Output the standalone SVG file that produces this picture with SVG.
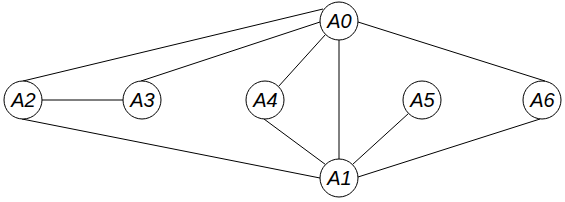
<svg xmlns="http://www.w3.org/2000/svg" width="565" height="202" viewBox="0 0 565 202">
<style>
.e{stroke:#000;stroke-width:1;fill:none}
.n circle{fill:#fff;stroke:#000;stroke-width:1}
.n text{font-family:"Liberation Sans",Arial,sans-serif;font-style:italic;font-size:20px;text-anchor:middle;dominant-baseline:central;fill:#000}
</style>
<rect width="565" height="202" fill="#fff"/>
<g id="edges">
<line class="e" x1="323" y1="9" x2="23" y2="81"/>
<line class="e" x1="320" y1="22" x2="141" y2="81"/>
<line class="e" x1="325.6" y1="34.4" x2="278.4" y2="86.6"/>
<line class="e" x1="339" y1="40" x2="339" y2="159"/>
<line class="e" x1="358" y1="22" x2="545" y2="81"/>
<line class="e" x1="42" y1="100" x2="123" y2="100"/>
<line class="e" x1="22" y1="119" x2="320" y2="178"/>
<line class="e" x1="264" y1="119" x2="325.6" y2="164.6"/>
<line class="e" x1="408.6" y1="113.4" x2="352.4" y2="164.6"/>
<line class="e" x1="540" y1="119" x2="358" y2="177"/>
</g>
<g id="A0" class="n"><circle cx="339" cy="21" r="19"/><text x="339.5" y="21">A0</text></g>
<g id="A1" class="n"><circle cx="339" cy="178" r="19"/><text x="339.5" y="178">A1</text></g>
<g id="A2" class="n"><circle cx="23" cy="100" r="19"/><text x="23.5" y="100">A2</text></g>
<g id="A3" class="n"><circle cx="142" cy="100" r="19"/><text x="142.5" y="100">A3</text></g>
<g id="A4" class="n"><circle cx="265" cy="100" r="19"/><text x="265.5" y="100">A4</text></g>
<g id="A5" class="n"><circle cx="422" cy="100" r="19"/><text x="422.5" y="100">A5</text></g>
<g id="A6" class="n"><circle cx="542" cy="100" r="19"/><text x="542.5" y="100">A6</text></g>
</svg>
